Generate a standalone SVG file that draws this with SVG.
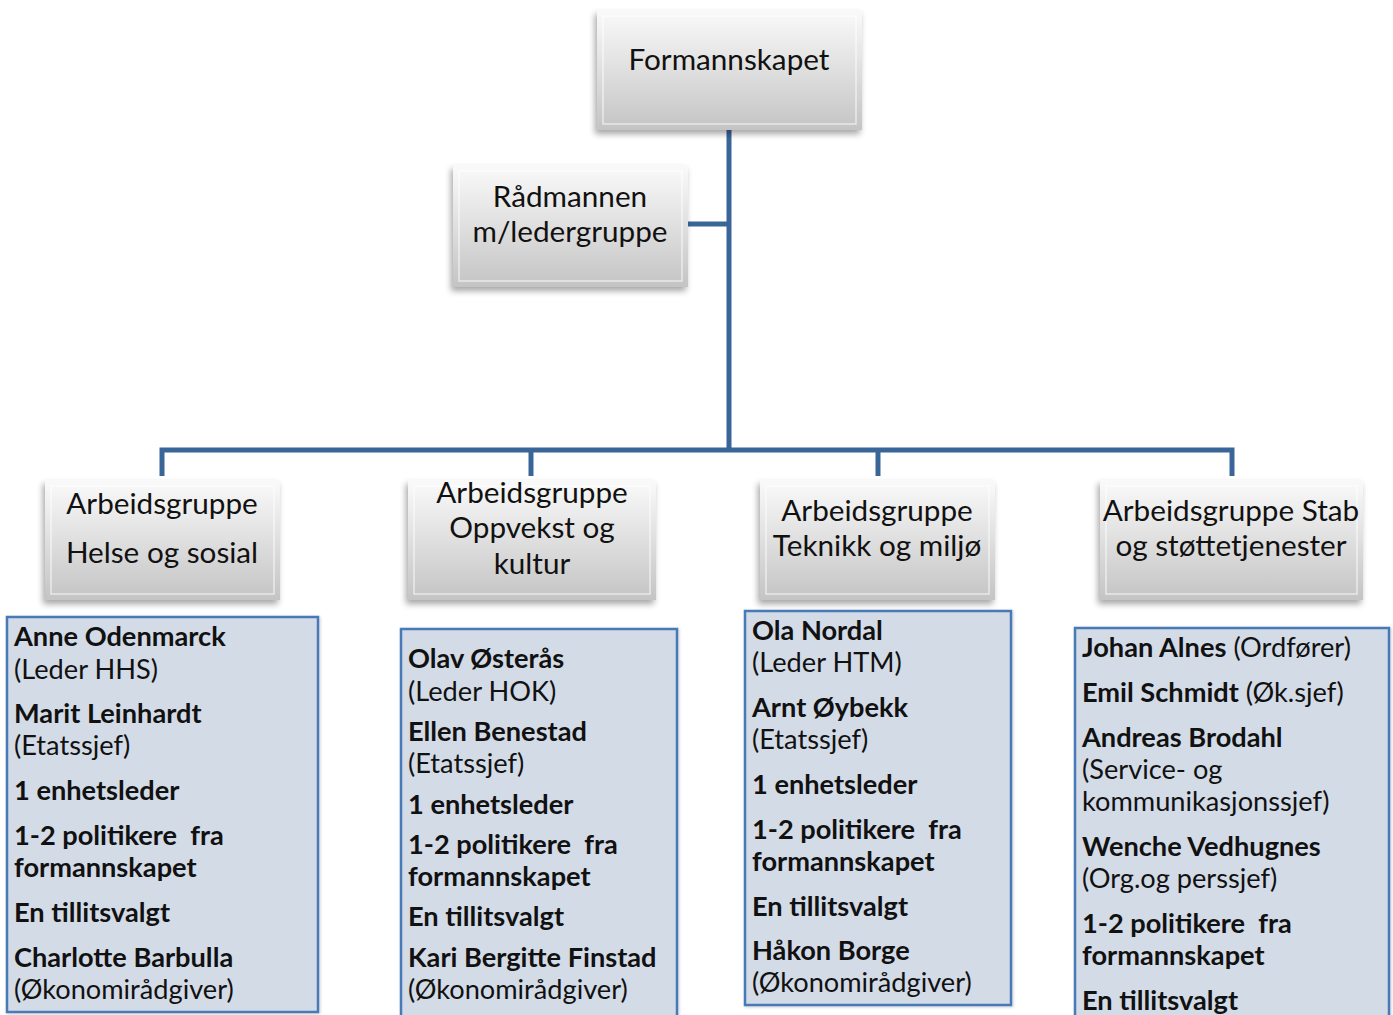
<svg xmlns="http://www.w3.org/2000/svg" width="1393" height="1015" viewBox="0 0 1393 1015">
<defs>
<linearGradient id="bev" x1="0" y1="0" x2="0" y2="1">
<stop offset="0" stop-color="#fafafa"/>
<stop offset="0.45" stop-color="#e2e2e2"/>
<stop offset="1" stop-color="#c4c4c4"/>
</linearGradient>
<filter id="sh" x="-10%" y="-10%" width="120%" height="130%">
<feDropShadow dx="-2" dy="4" stdDeviation="3" flood-color="#000" flood-opacity="0.35"/>
</filter>
<filter id="sh2" x="-5%" y="-5%" width="110%" height="110%">
<feDropShadow dx="1" dy="1" stdDeviation="1.5" flood-color="#000" flood-opacity="0.2"/>
</filter>
</defs>
<style>
.bx{fill:url(#bev);filter:url(#sh)}
.bi{fill:none;stroke:#ffffff;stroke-opacity:0.6;stroke-width:1.5}
.nt{font-family:Lato,"Liberation Sans",sans-serif;font-size:29.7px;fill:#111;text-anchor:middle}
.tb{fill:#d3dbe7;stroke:#4a7ab8;stroke-width:2.5;filter:url(#sh2)}
.t{font-family:Lato,"Liberation Sans",sans-serif;font-size:27.2px;fill:#111}
.b{font-weight:bold}
.cn{fill:none;stroke:#3a6598;stroke-width:5}
</style>
<g id="connectors">
<path class="cn" d="M729 130 V450"/>
<path class="cn" d="M688 224 H729"/>
<path class="cn" d="M162 476 V450 H1232 V476"/>
<path class="cn" d="M531 450 V476"/>
<path class="cn" d="M878 450 V476"/>
</g>
<g id="formannskapet">
<rect class="bx" x="597" y="10" width="265" height="120"/>
<rect class="bi" x="603" y="16" width="253" height="108"/>
<text class="nt" x="729" y="70">Formannskapet</text>
</g>
<g id="radmannen">
<rect class="bx" x="453" y="165" width="235" height="122"/>
<rect class="bi" x="459" y="171" width="223" height="110"/>
<text class="nt" x="570" y="207">Rådmannen</text>
<text class="nt" x="570" y="242">m/ledergruppe</text>
</g>
<g id="ag-helse">
<rect class="bx" x="45" y="480" width="235" height="120"/>
<rect class="bi" x="51" y="486" width="223" height="108"/>
<text class="nt" x="162" y="514">Arbeidsgruppe</text>
<text class="nt" x="162" y="563">Helse og sosial</text>
</g>
<g id="ag-oppvekst">
<rect class="bx" x="408" y="480" width="248" height="120"/>
<rect class="bi" x="414" y="486" width="236" height="108"/>
<text class="nt" x="532" y="503">Arbeidsgruppe</text>
<text class="nt" x="532" y="538">Oppvekst og</text>
<text class="nt" x="532" y="574">kultur</text>
</g>
<g id="ag-teknikk">
<rect class="bx" x="760" y="480" width="235" height="120"/>
<rect class="bi" x="766" y="486" width="223" height="108"/>
<text class="nt" x="877" y="521">Arbeidsgruppe</text>
<text class="nt" x="877" y="556">Teknikk og miljø</text>
</g>
<g id="ag-stab">
<rect class="bx" x="1100" y="480" width="263" height="120"/>
<rect class="bi" x="1106" y="486" width="251" height="108"/>
<text class="nt" x="1231" y="521">Arbeidsgruppe Stab</text>
<text class="nt" x="1231" y="556">og støttetjenester</text>
</g>
<g id="list-helse">
<rect class="tb" x="7" y="617" width="311" height="395"/>
<text class="t b" x="14" y="646">Anne Odenmarck</text>
<text class="t" x="14" y="679">(Leder HHS)</text>
<text class="t b" x="14" y="723">Marit Leinhardt</text>
<text class="t" x="14" y="755">(Etatssjef)</text>
<text class="t b" x="14" y="800">1 enhetsleder</text>
<text class="t b" x="14" y="845" xml:space="preserve">1-2 politikere  fra</text>
<text class="t b" x="14" y="877">formannskapet</text>
<text class="t b" x="14" y="922">En tillitsvalgt</text>
<text class="t b" x="14" y="967">Charlotte Barbulla</text>
<text class="t" x="14" y="999">(Økonomirådgiver)</text>
</g>
<g id="list-oppvekst">
<rect class="tb" x="401" y="629" width="276" height="392"/>
<text class="t b" x="408" y="668">Olav Østerås</text>
<text class="t" x="408" y="701">(Leder HOK)</text>
<text class="t b" x="408" y="741">Ellen Benestad</text>
<text class="t" x="408" y="773">(Etatssjef)</text>
<text class="t b" x="408" y="814">1 enhetsleder</text>
<text class="t b" x="408" y="854" xml:space="preserve">1-2 politikere  fra</text>
<text class="t b" x="408" y="886">formannskapet</text>
<text class="t b" x="408" y="926">En tillitsvalgt</text>
<text class="t b" x="408" y="967">Kari Bergitte Finstad</text>
<text class="t" x="408" y="999">(Økonomirådgiver)</text>
</g>
<g id="list-teknikk">
<rect class="tb" x="745" y="611" width="266" height="394"/>
<text class="t b" x="752" y="640">Ola Nordal</text>
<text class="t" x="752" y="672">(Leder HTM)</text>
<text class="t b" x="752" y="717">Arnt Øybekk</text>
<text class="t" x="752" y="749">(Etatssjef)</text>
<text class="t b" x="752" y="794">1 enhetsleder</text>
<text class="t b" x="752" y="839" xml:space="preserve">1-2 politikere  fra</text>
<text class="t b" x="752" y="871">formannskapet</text>
<text class="t b" x="752" y="916">En tillitsvalgt</text>
<text class="t b" x="752" y="960">Håkon Borge</text>
<text class="t" x="752" y="992">(Økonomirådgiver)</text>
</g>
<g id="list-stab">
<rect class="tb" x="1075" y="628" width="314" height="393"/>
<text class="t" x="1082" y="657"><tspan class="b">Johan Alnes</tspan> (Ordfører)</text>
<text class="t" x="1082" y="702"><tspan class="b">Emil Schmidt</tspan> (Øk.sjef)</text>
<text class="t b" x="1082" y="747">Andreas Brodahl</text>
<text class="t" x="1082" y="779">(Service- og</text>
<text class="t" x="1082" y="811">kommunikasjonssjef)</text>
<text class="t b" x="1082" y="856">Wenche Vedhugnes</text>
<text class="t" x="1082" y="888">(Org.og perssjef)</text>
<text class="t b" x="1082" y="933" xml:space="preserve">1-2 politikere  fra</text>
<text class="t b" x="1082" y="965">formannskapet</text>
<text class="t b" x="1082" y="1010">En tillitsvalgt</text>
</g>
</svg>
